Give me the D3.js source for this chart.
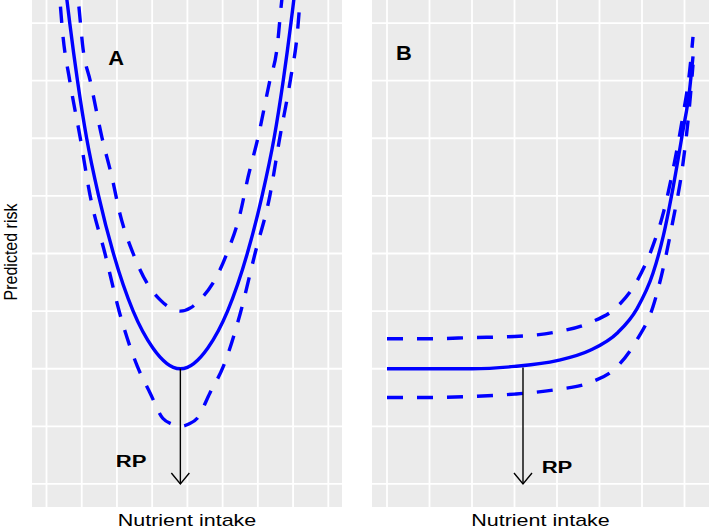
<!DOCTYPE html>
<html>
<head>
<meta charset="utf-8">
<script src="https://cdnjs.cloudflare.com/ajax/libs/d3/7.8.5/d3.min.js"></script>
<style>
  body { margin: 0; background: #fff; }
  svg { display: block; font-family: 'Liberation Sans', Arial, sans-serif; }
</style>
</head>
<body>
<svg id="chart" width="709" height="528"></svg>
<script>
'use strict';

// grid breaks (major + minor), same for both panels
const gridX = [0, 0.5, 1, 1.5, 2, 2.5, 3, 3.5, 4];
const gridY = [0, 5, 10, 15, 20, 25, 30, 35, 40];

// panel A: U-shaped risk, fit + upper / lower limits
const aFitX = [0.25, 0.29, 0.33, 0.44, 0.57, 0.74, 0.95, 1.23, 1.51, 1.71, 1.8, 1.9,
  2.0, 2.09, 2.29, 2.57, 2.85, 3.06, 3.23, 3.36, 3.47, 3.51, 3.55];
const aFitY = [44, 42, 40, 35, 30, 25, 20, 15, 11.8, 10.45, 10.12, 10,
  10.12, 10.45, 11.8, 15, 20, 25, 30, 35, 40, 42, 44];
const aUpX = [0.41, 0.45, 0.52, 0.62, 0.79, 0.93, 1.04, 1.23, 1.43, 1.61, 1.75, 1.9,
  2.05, 2.18, 2.36, 2.56, 2.75, 2.86, 3.0, 3.17, 3.27, 3.34, 3.38];
const aUpY = [44, 42, 37.7, 35, 30, 26.6, 23.5, 20, 17.4, 16, 15.3, 15,
  15.3, 16, 17.4, 20, 23.5, 26.6, 30, 35, 37.7, 42, 44];
const aLowX = [0.16, 0.19, 0.23, 0.33, 0.48, 0.62, 0.83, 1.04, 1.29, 1.47, 1.65, 1.78, 1.9,
  2.02, 2.14, 2.32, 2.51, 2.75, 2.96, 3.17, 3.31, 3.46, 3.56, 3.6, 3.63];
const aLowY = [44, 42, 39.1, 35, 30, 25, 20, 14.8, 10.2, 7.9, 5.7, 5.2, 5,
  5.2, 5.7, 7.9, 10.2, 14.8, 20, 25, 30, 35, 39.1, 42, 44];

// panel B: flat then rising risk
const bX = [0, 0.5, 1, 1.5, 2, 2.39, 2.71, 2.94, 3.13, 3.25, 3.36, 3.48, 3.56, 3.6];
const bFitY = [10, 10, 10, 10.2, 10.7, 11.6, 13.1, 15.2, 18.3, 21.5, 25.5, 30.6, 34.2, 37.1];
const bUpY = [12.6, 12.6, 12.7, 12.8, 13.2, 14.0, 15.4, 17.6, 20.7, 23.5, 27.1, 31.9, 35.8, 38.8];
const bLowY = [7.5, 7.5, 7.6, 7.8, 8.2, 8.8, 10.2, 12.5, 15.4, 18.75, 22.7, 27.7, 32.9, 36.4];

// reference point arrows and labels
const rpA = { x: 1.9, from: 10, to: 0, labelX: 1.2, labelY: 2 };
const rpB = { x: 1.6, from: 10.1, to: 0, labelX: 2.0, labelY: 1.5 };

const svg = d3.select('#chart');
const y = d3.scaleLinear().domain([-2, 42]).range([507, 0]);

const zip = (xs, ys) => xs.map((d, i) => [d, ys[i]]);

const stretchText = (g, x, yy, txt, size, weight, sx) => {
  g.append('text')
    .attr('transform', `translate(${x},${yy}) scale(${sx},1)`)
    .attr('text-anchor', 'middle')
    .attr('dy', '0.36em')
    .attr('font-size', size)
    .attr('font-weight', weight)
    .attr('fill', '#000')
    .text(txt);
};

const drawPanel = (opts) => {
  const x = opts.x;
  const g = svg.append('g');
  const clipId = 'clip' + opts.key;

  g.append('clipPath')
    .attr('id', clipId)
    .append('rect')
    .attr('x', opts.left)
    .attr('y', 0)
    .attr('width', opts.right - opts.left)
    .attr('height', y(-2));

  g.append('rect')
    .attr('x', opts.left)
    .attr('y', 0)
    .attr('width', opts.right - opts.left)
    .attr('height', y(-2))
    .attr('fill', '#ebebeb');

  const inner = g.append('g').attr('clip-path', `url(#${clipId})`);

  inner.selectAll('.gx')
    .data(gridX.filter((d) => x(d) > opts.left && x(d) < opts.right))
    .enter()
    .append('line')
    .attr('x1', (d) => x(d))
    .attr('x2', (d) => x(d))
    .attr('y1', 0)
    .attr('y2', y(-2))
    .attr('stroke', '#fff')
    .attr('stroke-width', 1.8);

  inner.selectAll('.gy')
    .data(gridY)
    .enter()
    .append('line')
    .attr('x1', opts.left)
    .attr('x2', opts.right)
    .attr('y1', (d) => y(d))
    .attr('y2', (d) => y(d))
    .attr('stroke', '#fff')
    .attr('stroke-width', 1.8);

  // monotone keeps the minimum rounded instead of kinked
  const line = d3.line()
    .x((d) => x(d[0]))
    .y((d) => y(d[1]))
    .curve(d3.curveMonotoneX);

  opts.curves.forEach((c) => {
    inner.append('path')
      .attr('d', line(c.points))
      .attr('fill', 'none')
      .attr('stroke', '#0000ff')
      .attr('stroke-width', 3.4)
      .attr('stroke-dasharray', c.dashed ? '16 14' : null);
  });

  // reference point arrow
  const rp = opts.rp;
  const ax = x(rp.x);
  const tip = y(rp.to);
  inner.append('line')
    .attr('x1', ax)
    .attr('x2', ax)
    .attr('y1', y(rp.from))
    .attr('y2', tip)
    .attr('stroke', '#000')
    .attr('stroke-width', 1.4);
  inner.append('path')
    .attr('d', `M${ax - 9},${tip - 11}L${ax},${tip}L${ax + 9},${tip - 11}`)
    .attr('fill', 'none')
    .attr('stroke', '#000')
    .attr('stroke-width', 1.4);

  stretchText(g, x(rp.labelX), y(rp.labelY), 'RP', 17, 'bold', 1.3);
  stretchText(g, x(opts.tagX), y(opts.tagY), opts.key, 19.5, 'bold', 1.12);

  g.append('text')
    .attr('transform', `translate(${(opts.left + opts.right) / 2},526) scale(1.28,1)`)
    .attr('text-anchor', 'middle')
    .attr('font-size', 16.8)
    .attr('fill', '#000')
    .text('Nutrient intake');
};

drawPanel({
  key: 'A',
  left: 32,
  right: 342,
  x: d3.scaleLinear().domain([0, 4]).range([46.5, 328.3]),
  tagX: 0.99,
  tagY: 37,
  rp: rpA,
  curves: [
    { points: zip(aUpX, aUpY), dashed: true },
    { points: zip(aLowX, aLowY), dashed: true },
    { points: zip(aFitX, aFitY), dashed: false },
  ],
});

drawPanel({
  key: 'B',
  left: 372,
  right: 709,
  x: d3.scaleLinear().domain([0, 4]).range([387, 727]),
  tagX: 0.2,
  tagY: 37.4,
  rp: rpB,
  curves: [
    { points: zip(bX, bUpY), dashed: true },
    { points: zip(bX, bLowY), dashed: true },
    { points: zip(bX, bFitY), dashed: false },
  ],
});

svg.append('text')
  .attr('transform', 'translate(16.5,252) scale(1.15,1) rotate(-90)')
  .attr('text-anchor', 'middle')
  .attr('font-size', 16)
  .attr('fill', '#000')
  .text('Predicted risk');
</script>
</body>
</html>
